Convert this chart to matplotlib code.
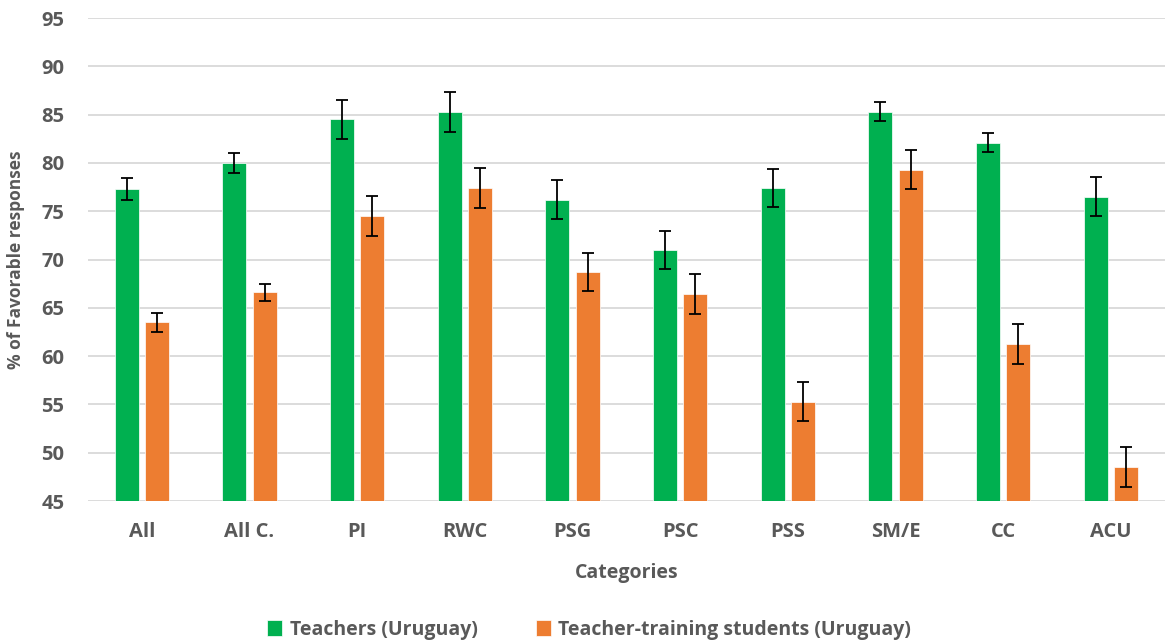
import numpy as np
from matplotlib import pyplot as plt
from matplotlib import font_manager

categories = ["All", "All C.", "PI", "RWC", "PSG", "PSC", "PSS", "SM/E", "CC", "ACU"]
teachers = [77.3, 80.0, 84.5, 85.3, 76.2, 71.0, 77.4, 85.3, 82.1, 76.5]
teachers_err = [1.1, 1.0, 2.05, 2.05, 2.05, 2.0, 2.0, 1.0, 0.95, 2.0]
students = [63.5, 66.6, 74.5, 77.4, 68.7, 66.4, 55.3, 79.3, 61.25, 48.5]
students_err = [1.0, 0.9, 2.05, 2.05, 2.0, 2.05, 2.05, 2.05, 2.05, 2.05]

plt.rcParams['font.family'] = ['Open Sans', 'DejaVu Sans']
grey = '#595959'

names = {f.name for f in font_manager.fontManager.ttflist}
legend_family = 'Liberation Sans Narrow' if 'Liberation Sans Narrow' in names else 'Open Sans'
legend_size = 15.5 if legend_family == 'Liberation Sans Narrow' else 14

fig = plt.figure(figsize=(11.67, 6.41), dpi=100)
ax = fig.add_axes([0.0754, 0.2184, 0.9226, 0.7535])

x = np.arange(len(categories))
w = 0.223
off = 0.14
ax.bar(x - off, np.array(teachers) - 45, w, bottom=45, color='#00B050',
       edgecolor='white', linewidth=0.5, label="Teachers (Uruguay)", zorder=2)
ax.bar(x + off, np.array(students) - 45, w, bottom=45, color='#ED7D31',
       edgecolor='white', linewidth=0.5, label="Teacher-training students (Uruguay)", zorder=2)
ax.errorbar(x - off, teachers, yerr=teachers_err, fmt='none', ecolor='black',
            elinewidth=1.3, capsize=4, capthick=1.3, zorder=3)
ax.errorbar(x + off, students, yerr=students_err, fmt='none', ecolor='black',
            elinewidth=1.3, capsize=4, capthick=1.3, zorder=3)

ax.set_xlim(-0.5, len(categories) - 0.5)
ax.set_ylim(45, 95)
ax.set_yticks(np.arange(45, 96, 5))
ax.yaxis.grid(True, color='#D9D9D9', linewidth=1.3, zorder=0)
ax.set_axisbelow(True)
for s in ax.spines.values():
    s.set_visible(False)
ax.tick_params(length=0, labelsize=14.5, labelcolor=grey)
ax.tick_params(axis='y', pad=17)
ax.tick_params(axis='x', pad=15)
ax.set_xticks(x)
ax.set_xticklabels(categories)
for t in ax.get_xticklabels() + ax.get_yticklabels():
    t.set_fontweight('bold')

ax.set_xlabel("Categories", fontsize=14, fontweight='bold', color=grey, labelpad=15)
ax.set_ylabel("% of Favorable responses", fontsize=12.5, fontweight='bold', color=grey, labelpad=12)

fig.legend(loc='lower center', bbox_to_anchor=(0.505, -0.025), ncol=2, frameon=False,
           prop={'family': legend_family, 'size': legend_size, 'weight': 'bold'},
           labelcolor=grey, handlelength=0.75, handleheight=0.85, columnspacing=3.0,
           handletextpad=0.4)

plt.savefig("out.png", dpi=100)
plt.close(fig)
